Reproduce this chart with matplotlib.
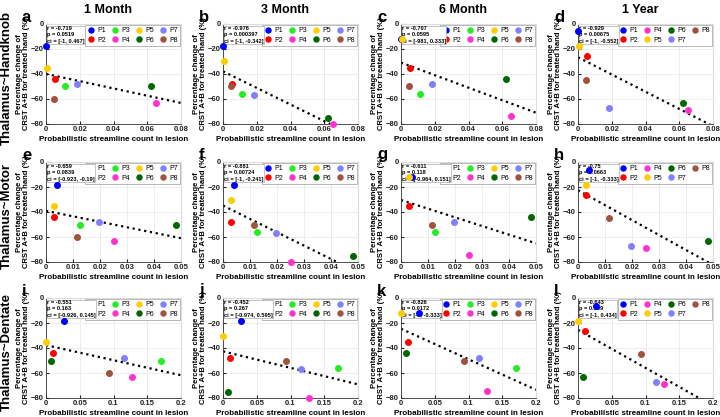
import matplotlib
matplotlib.use("Agg")
import matplotlib.pyplot as plt
import numpy as np

plt.rcParams["font.family"] = ["Liberation Sans", "DejaVu Sans"]
plt.rcParams["font.weight"] = "bold"

participants = ["P1", "P2", "P3", "P4", "P5", "P6", "P7", "P8"]
colors = ["#0000ff", "#ff0000", "#22ee22", "#ff33cc", "#ffcc00", "#006600", "#8080ff", "#a0523c"]

timepoints = ["1 Month", "3 Month", "6 Month", "1 Year"]
tracts = ["Thalamus~Handknob", "Thalamus~Motor", "Thalamus~Dentate"]

# streamline count in lesion, per participant, per tract
x_handknob = [0.0, 0.0055, 0.011, 0.065, 0.0008, 0.062, 0.0185, 0.0045]
x_motor = [0.004, 0.0028, 0.0127, 0.0252, 0.003, 0.048, 0.0195, 0.0113]
x_dentate = [0.027, 0.010, 0.170, 0.128, 0.0, 0.007, 0.115, 0.093]

# percentage change of CRST A+B (None = missing)
y_1month = [-18, -44, -50, -63, -35, -50, -48, -60]
y_3month = [-18, -48, -56, -80, -30, -75, -57, -50]
y_6month = [-12, -35, -56, -74, -12, -44, -48, -50]
y_1year = [-6, -26, None, -69, -18, -63, -67, -45]

xlims = [0.08, 0.05, 0.2]
xticks = [
    [0, 0.02, 0.04, 0.06, 0.08],
    [0, 0.01, 0.02, 0.03, 0.04, 0.05],
    [0, 0.05, 0.1, 0.15, 0.2],
]
xticklabels = [
    ["0", "0.02", "0.04", "0.06", "0.08"],
    ["0", "0.01", "0.02", "0.03", "0.04", "0.05"],
    ["0", "0.05", "0.1", "0.15", "0.2"],
]

stats = [
    ["r = -0.719\np = 0.0519\nci = [-1, 0.467]",
     "r = -0.976\np = 0.000397\nci = [-1, -0.342]",
     "r = -0.707\np = 0.0595\nci = [-981, 0.333]",
     "r = -0.929\np = 0.00675\nci = [-1, -0.552]"],
    ["r = -0.659\np = 0.0839\nci = [-0.923, -0.19]",
     "r = -0.881\np = 0.00724\nci = [-1, -0.241]",
     "r = -0.611\np = 0.118\nci = [-0.964, 0.151]",
     "r = -0.75\np = 0.0663\nci = [-1, -0.333]"],
    ["r = -0.551\np = 0.163\nci = [-0.926, 0.145]",
     "r = -0.452\np = 0.267\nci = [-0.974, 0.595]",
     "r = -0.826\np = 0.0172\nci = [-1, -0.333]",
     "r = -0.643\np = 0.139\nci = [-1, 0.434]"],
]
letters = "abcdefghijkl"

W, H = 720, 417
col_left = [46, 223, 401, 578]
row_top = [24, 162, 298]
ax_w, ax_h = 135, 100

fig = plt.figure(figsize=(W / 100, H / 100), dpi=100)

xs_all = [x_handknob, x_motor, x_dentate]
ys_all = [y_1month, y_3month, y_6month, y_1year]

for r in range(3):
    for c in range(4):
        ax = fig.add_axes([col_left[c] / W, 1 - (row_top[r] + ax_h) / H, ax_w / W, ax_h / H])
        xs, ys = xs_all[r], ys_all[c]
        px, py = [], []
        for name, col, xv, yv in zip(participants, colors, xs, ys):
            if yv is None:
                continue
            ax.plot(xv, yv, "o", color=col, markersize=4, label=name, clip_on=False, zorder=7)
            px.append(xv)
            py.append(yv)
        slope, icpt = np.polyfit(px, py, 1)
        lx = np.linspace(0, xlims[r], 100)
        ax.plot(lx, slope * lx + icpt, ":", color="black", lw=1.6, zorder=2)
        ax.set_xlim(0, xlims[r])
        ax.set_ylim(-80, 0)
        ax.set_xticks(xticks[r])
        ax.set_xticklabels(xticklabels[r])
        ax.set_yticks([0, -20, -40, -60, -80])
        ax.tick_params(labelsize=5.5, length=2, direction="in", pad=1.5, colors="#222222")
        ax.grid(True, color="#e6e6e6", lw=0.5)
        ax.set_axisbelow(True)
        for s in ["top", "right"]:
            ax.spines[s].set_color("#dddddd")
        for s in ["left", "bottom"]:
            ax.spines[s].set_color("#333333")
            ax.spines[s].set_linewidth(0.6)
        ax.set_xlabel("Probabilistic streamline count in lesion", fontsize=5.8, fontweight="bold", labelpad=2)
        ax.set_ylabel("Percentage change of\nCRST A+B for treated hand (%)", fontsize=5.5,
                      fontweight="bold", labelpad=0.5, linespacing=1.0)
        leg = ax.legend(loc="upper right", ncol=4, fontsize=5, frameon=True, fancybox=False,
                        borderaxespad=0.15, handletextpad=0.5, columnspacing=0.9,
                        handlelength=0.8, borderpad=0.35, labelspacing=0.35, markerscale=0.9)
        leg.get_frame().set_edgecolor("#999999")
        leg.get_frame().set_linewidth(0.6)
        leg.set_zorder(4)
        for t in leg.get_texts():
            t.set_fontweight("normal")
        ax.text(0.006, 0.98, stats[r][c], transform=ax.transAxes, fontsize=4.1, fontweight="bold",
                va="top", ha="left", linespacing=1.35,
                bbox=dict(boxstyle="square,pad=0.05", fc="white", ec="#aaaaaa", lw=0.5), zorder=6)
        fig.text((col_left[c] - 24) / W, 1 - (row_top[r] - 7) / H, letters[r * 4 + c],
                 fontsize=12, fontweight="bold", ha="left", va="center")

for c, tp in enumerate(timepoints):
    fig.text((col_left[c] + 62) / W, 1 - 10 / H, tp, fontsize=9, fontweight="bold", ha="center", va="center")

for r, tr in enumerate(tracts):
    fig.text(7 / W, 1 - (row_top[r] + ax_h / 2 + 4) / H, tr, fontsize=9.5, fontweight="bold",
             rotation=90, ha="center", va="center")

fig.savefig("out.png", dpi=100)
